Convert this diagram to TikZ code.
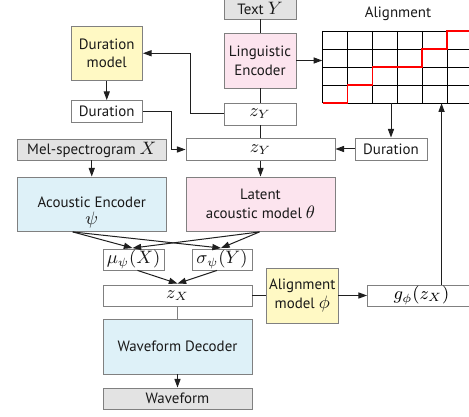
\documentclass[tikz,border=0pt]{standalone}
\usepackage{fontspec}
\setmainfont{PT Sans}
\usetikzlibrary{arrows.meta,calc}
\definecolor{edgegray}{gray}{0.5}
\definecolor{fillgray}{gray}{0.89}
\definecolor{fillyellow}{RGB}{255,249,196}
\definecolor{fillpink}{RGB}{252,228,238}
\definecolor{fillblue}{RGB}{222,241,248}
\definecolor{linecol}{gray}{0.12}
\newcommand{\mth}[1]{\scalebox{1.5}{\fontsize{9pt}{11pt}\selectfont$#1$}}
\tikzset{
  x=0.75pt,y=-0.75pt,
  wh/.style 2 args={minimum width=#1*0.75pt,minimum height=#2*0.75pt},
  bx/.style={draw=edgegray,line width=0.65pt,inner sep=0pt,align=center,font=\fontsize{11.2pt}{14pt}\selectfont,text=black!90},
  graybox/.style={bx,fill=fillgray},
  yellowbox/.style={bx,fill=fillyellow},
  pinkbox/.style={bx,fill=fillpink},
  bluebox/.style={bx,fill=fillblue},
  whitebox/.style={bx,fill=white},
  conn/.style={draw=linecol,line width=0.75pt},
  arr/.style={conn,-{Triangle[length=6.5pt,width=4.6pt]}},
  gridline/.style={draw=black,line width=0.6pt},
  redpath/.style={draw=red,line width=1.15pt},
}
\begin{document}
\begin{tikzpicture}
\useasboundingbox (0,0) rectangle (469,417);
% alignment grid
\node[wh={149.5}{72},inner sep=0pt] (grid) at (397.25,67) {};
\draw[gridline] (322.5,31) -- (472,31) (322.5,49) -- (472,49) (322.5,67) -- (472,67) (322.5,85) -- (472,85) (322.5,103) -- (472,103);
\draw[gridline] (322.5,31) -- (322.5,103) (347.5,31) -- (347.5,103) (372.5,31) -- (372.5,103) (397.5,31) -- (397.5,103) (422,31) -- (422,103) (447,31) -- (447,103);
\draw[redpath] (322.5,103) -- (347.5,103) -- (347.5,85) -- (372.5,85) -- (372.5,67) -- (422,67) -- (422,49) -- (447,49) -- (447,31) -- (472,31);
\node[font=\fontsize{11.2pt}{14pt}\selectfont,text=black!90,inner sep=0pt] (algtitle) at (398,14) {Alignment};
% nodes
\node[graybox,wh={72}{21}] (text) at (260,8.5) {Text \mth{Y}};
\node[pinkbox,wh={72}{55}] (ling) at (260,60.5) {Linguistic\\Encoder};
\node[whitebox,wh={72}{22}] (zy1) at (260,114) {\mth{z_Y}};
\node[whitebox,wh={149}{21.5}] (zy2) at (260.5,149.5) {\mth{z_Y}};
\node[pinkbox,wh={149}{54}] (latent) at (260.5,204) {Latent\\acoustic model \mth{\theta}};
\node[whitebox,wh={72}{22}] (durr) at (391,149) {Duration};
\node[yellowbox,wh={71.5}{54.5}] (durm) at (106.75,53.25) {Duration\\model};
\node[whitebox,wh={71.5}{21.5}] (durl) at (106.75,111.25) {Duration};
\node[graybox,wh={148.5}{21}] (mel) at (91.75,149.5) {Mel-spectrogram \mth{X}};
\node[bluebox,wh={148.5}{54}] (aenc) at (91.75,204) {\rule{0pt}{21pt}Acoustic Encoder\\[-1pt]\mth{\psi}};
\node[whitebox,wh={61}{21}] (mu) at (133.5,259.5) {\mth{\mu_\psi(X)}};
\node[whitebox,wh={60}{21}] (sigma) at (222,259.5) {\mth{\sigma_\psi(Y)}};
\node[whitebox,wh={149}{21}] (zx) at (177.5,295.5) {\mth{z_X}};
\node[yellowbox,wh={71.5}{55}] (algm) at (302.25,295.5) {Alignment\\model \mth{\phi}};
\node[whitebox,wh={110}{21}] (g) at (422.5,295.5) {};
\node[inner sep=0pt,font=\fontsize{11.2pt}{14pt}\selectfont] (glabel) at (421.5,295.5) {\mth{g_\phi(z_X)}};
\node[bluebox,wh={149}{55}] (wdec) at (177.5,346.5) {Waveform Decoder};
\node[graybox,wh={149}{21}] (wave) at (177.5,398.5) {Waveform};
% connectors
\draw[conn] (text) -- (ling);
\draw[conn] (ling) -- (zy1);
\draw[conn] (zy1) -- (zy1 |- zy2.north);
\draw[arr] (zy2) -- (latent);
\draw[arr] (ling.east) -- (ling.east -| grid.west);
\draw[arr] (zy1.west) -| ($(zy1.west)+(-33,0)$) |- (durm.east);
\draw[arr] (durm) -- (durl);
\draw[arr] (durl.east) -- ++(29,0) |- (zy2.west);
\draw[arr] (mel) -- (aenc);
\draw[arr] (grid.south -| durr) -- (durr.north);
\draw[arr] (durr.west) -- (durr.west -| zy2.east);
\coordinate (gup) at ($(g.north west)+(74.5,0)$);
\draw[arr] (gup) -- (gup |- grid.south);
\draw[conn] (zx.east) -- (zx.east -| algm.west);
\draw[arr] (algm.east) -- (algm.east -| g.west);
\coordinate (aout) at ($(aenc.south)+(-19,0.5)$);
\coordinate (lout) at ($(latent.south)+(-1,0.5)$);
\coordinate (muin) at ($(mu.north)+(-1,-0.5)$);
\coordinate (sigin) at ($(sigma.north)+(-1,-0.5)$);
\draw[arr] (aout) -- (muin);
\draw[arr] (aout) -- (sigin);
\draw[arr] (lout) -- (muin);
\draw[arr] (lout) -- (sigin);
\coordinate (zxin) at ($(zx.north)+(0,-1)$);
\draw[arr] ($(mu.south)+(4,0)$) -- (zxin);
\draw[arr] ($(sigma.south)+(-5,0)$) -- (zxin);
\draw[conn,draw=edgegray,line width=1pt] (zx) -- (wdec);
\draw[arr] (wdec) -- (wave);
\end{tikzpicture}
\end{document}
